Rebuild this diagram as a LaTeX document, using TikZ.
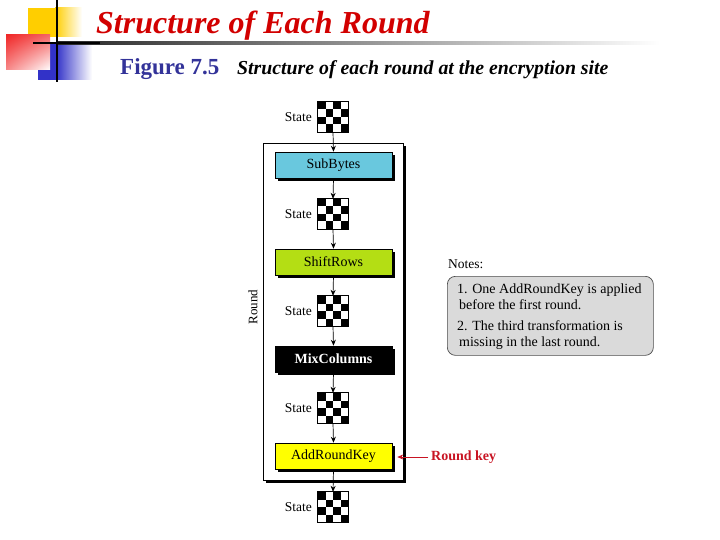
\documentclass[tikz,border=0pt]{standalone}
\usepackage{fontspec}
\setmainfont{Liberation Serif}
\usetikzlibrary{arrows.meta,shadows,calc,shadings}
\definecolor{titlered}{RGB}{210,0,0}
\definecolor{figblue}{RGB}{51,51,153}
\definecolor{subcol}{RGB}{105,200,222}
\definecolor{shiftcol}{RGB}{180,222,20}
\definecolor{keyyellow}{RGB}{255,255,0}
\definecolor{notegray}{RGB}{218,218,218}
\definecolor{keyred}{RGB}{200,20,35}
\definecolor{decoyellow}{RGB}{255,206,0}
\definecolor{decoblue}{RGB}{50,50,200}
\definecolor{decored}{RGB}{240,40,40}
\tikzset{
  txt/.style={font=\fontsize{13.5}{15}\selectfont, inner sep=0pt},
  checker/.style={minimum width=30pt, minimum height=30pt, inner sep=0pt, fill=white},
  cell/.style={fill=black},
  cellline/.style={draw=black, line width=0.9pt},
  stage/.style={draw=black, line width=0.6pt, minimum width=117pt, minimum height=26pt, inner sep=0pt,
    font=\fontsize{14}{16}\selectfont,
    drop shadow={shadow xshift=3pt, shadow yshift=-3pt, fill=black, opacity=1}},
  arr/.style={-{Stealth[length=6pt,width=5pt]}, line width=0.7pt},
}
\begin{document}
\begin{tikzpicture}[x=1pt,y=-1pt]
\useasboundingbox (0,0) rectangle (720,540);
% decoration
\fill[decoyellow] (28,8) rectangle (55,37);
\shade[left color=decoyellow, right color=white] (55,8) rectangle (82,37);
\fill[decoblue] (38,43) rectangle (56,80);
\shade[left color=decoblue, right color=white] (56,43) rectangle (92,80);
\shade[upper left=decored, upper right=decored!70, lower left=decored!55, lower right=white] (6,35) rectangle (50,70);
\shade[left color=black!85, right color=white] (57,41.5) rectangle (660,44.5);
\draw[line width=1.6pt] (57,0) -- (57,82);
\draw[line width=1.6pt] (33,43) -- (100,43);
% titles
\node[anchor=base west, inner sep=0pt, text=titlered, font=\fontsize{32}{34}\selectfont\bfseries\itshape] (title) at (96,34) {Structure of Each Round};
\node[anchor=base west, inner sep=0pt, text=figblue, font=\fontsize{23}{25}\selectfont\bfseries] (fig) at (120,75) {Figure 7.5};
\node[anchor=base west, inner sep=0pt, font=\fontsize{19.8}{21}\selectfont\bfseries\itshape] (cap) at (237,75) {Structure of each round at the encryption site};
% outer round box
\draw[line width=0.8pt, fill=white, drop shadow={shadow xshift=3pt, shadow yshift=-3pt, fill=black, opacity=1}] (263,143) rectangle (403,480);
\node[txt, rotate=90, font=\fontsize{13}{15}\selectfont] (round) at (253,307) {Round};
% states
\foreach \n/\yy in {1/117,2/214,3/311,4/408,5/507}{
  \node[checker] (s\n) at (333,\yy) {};
  \foreach \cx/\cy in {0/0,2/0,1/1,3/1,0/2,2/2,1/3,3/3}
    \fill[cell] (318+\cx*7.5,\yy-15+\cy*7.5) rectangle ++(7.5,7.5);
  \draw[cellline] (s\n.north west) rectangle (s\n.south east);
  \node[txt, anchor=east] (l\n) at (312,\yy) {State};
}
% stages
\node[stage, fill=subcol] (sub) at (333.5,165) {SubBytes};
\node[stage, fill=shiftcol] (shift) at (333.5,262) {ShiftRows};
\node[stage, fill=black, text=white, font=\fontsize{14}{16}\selectfont\bfseries] (mix) at (333.5,359) {MixColumns};
\node[stage, fill=keyyellow] (add) at (333.5,456) {AddRoundKey};
% arrows
\draw[arr] (s1.south) -- (sub.north);
\draw[arr] (sub.south) -- (s2.north);
\draw[arr] (s2.south) -- (shift.north);
\draw[arr] (shift.south) -- (s3.north);
\draw[arr] (s3.south) -- (mix.north);
\draw[arr] (mix.south) -- (s4.north);
\draw[arr] (s4.south) -- (add.north);
\draw[arr] (add.south) -- (s5.north);
% round key
\node[txt, anchor=west, text=keyred, font=\fontsize{14}{16}\selectfont\bfseries] (rk) at (431,457) {Round key};
\draw[arr, draw=keyred, fill=keyred, shorten >=5pt] (rk.west) ++(-3,0) coordinate (rkw) (rkw) -- (add.east |- rkw);
% notes
\node[txt, anchor=base west] (notes) at (448,268) {Notes:};
\node[draw=black!70, fill=notegray, rounded corners=8pt, line width=0.7pt, minimum width=206pt, minimum height=79pt, anchor=north west] (nb) at (447,276) {};
\node[txt, anchor=north west, align=left, font=\fontsize{14}{15.5}\selectfont] (nt) at (457,284) {1. One AddRoundKey is applied\\[0pt]\hspace*{2pt}before the first round.\\[6pt]2. The third transformation is\\[0pt]\hspace*{2pt}missing in the last round.};
\end{tikzpicture}
\end{document}
